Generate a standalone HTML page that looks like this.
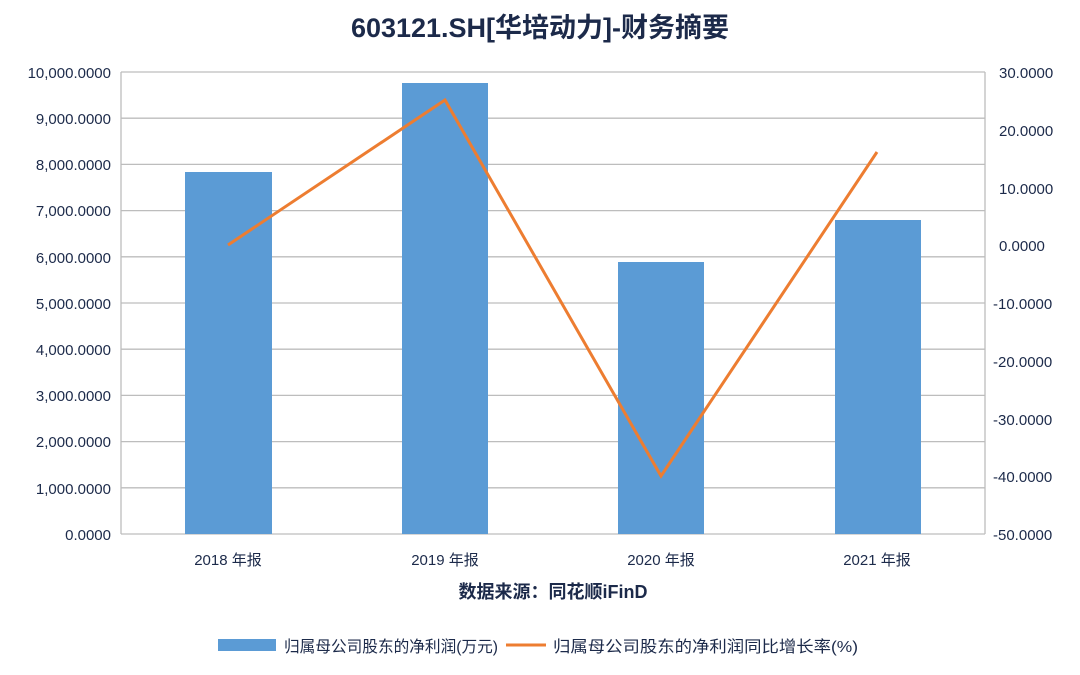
<!DOCTYPE html>
<html><head><meta charset="utf-8"><style>
body{margin:0;background:#fff;}
svg text{font-family:"Liberation Sans","Noto Sans CJK SC",sans-serif;fill:#1c2a4a;}
</style></head><body>
<svg width="1080" height="670" xmlns="http://www.w3.org/2000/svg">
<rect width="1080" height="670" fill="#fff"/>
<text x="540" y="37" text-anchor="middle" font-size="27" font-weight="bold" fill="#1c2a4a">603121.SH[华培动力]-财务摘要</text>
<g stroke="#bdbdbd" stroke-width="1.3">
<line x1="121" y1="72" x2="985" y2="72"/>
<line x1="121" y1="118.2" x2="985" y2="118.2"/>
<line x1="121" y1="164.4" x2="985" y2="164.4"/>
<line x1="121" y1="210.6" x2="985" y2="210.6"/>
<line x1="121" y1="256.8" x2="985" y2="256.8"/>
<line x1="121" y1="303" x2="985" y2="303"/>
<line x1="121" y1="349.2" x2="985" y2="349.2"/>
<line x1="121" y1="395.4" x2="985" y2="395.4"/>
<line x1="121" y1="441.6" x2="985" y2="441.6"/>
<line x1="121" y1="487.8" x2="985" y2="487.8"/>
<line x1="121" y1="534" x2="985" y2="534"/>
<line x1="121" y1="72" x2="121" y2="534"/>
<line x1="985" y1="72" x2="985" y2="534"/>
</g>
<g fill="#5b9bd5">
<rect x="185" y="172" width="87" height="362"/>
<rect x="402" y="83" width="86" height="451"/>
<rect x="618" y="262" width="86" height="272"/>
<rect x="835" y="220" width="86" height="314"/>
</g>
<polyline points="228,245 445,100 661,476 877,152" fill="none" stroke="#ed7d31" stroke-width="3"/>
<g font-size="15" text-anchor="end">
<text x="111" y="78">10,000.0000</text>
<text x="111" y="124">9,000.0000</text>
<text x="111" y="170">8,000.0000</text>
<text x="111" y="216">7,000.0000</text>
<text x="111" y="263">6,000.0000</text>
<text x="111" y="309">5,000.0000</text>
<text x="111" y="355">4,000.0000</text>
<text x="111" y="401">3,000.0000</text>
<text x="111" y="447">2,000.0000</text>
<text x="111" y="494">1,000.0000</text>
<text x="111" y="540">0.0000</text>
</g>
<g font-size="15" text-anchor="start">
<text x="999" y="78">30.0000</text>
<text x="999" y="136">20.0000</text>
<text x="999" y="194">10.0000</text>
<text x="999" y="251">0.0000</text>
<text x="993" y="309">-10.0000</text>
<text x="993" y="367">-20.0000</text>
<text x="993" y="425">-30.0000</text>
<text x="993" y="482">-40.0000</text>
<text x="993" y="540">-50.0000</text>
</g>
<g font-size="15" text-anchor="middle">
<text x="228" y="565">2018 年报</text>
<text x="445" y="565">2019 年报</text>
<text x="661" y="565">2020 年报</text>
<text x="877" y="565">2021 年报</text>
</g>
<text x="553" y="598" text-anchor="middle" font-size="18" font-weight="bold">数据来源：同花顺iFinD</text>
<rect x="218" y="639" width="58" height="12" fill="#5b9bd5"/>
<text x="284" y="652" font-size="16" textLength="214" lengthAdjust="spacingAndGlyphs">归属母公司股东的净利润(万元)</text>
<line x1="506" y1="645" x2="546" y2="645" stroke="#ed7d31" stroke-width="3"/>
<text x="553" y="652" font-size="16" textLength="305" lengthAdjust="spacingAndGlyphs">归属母公司股东的净利润同比增长率(%)</text>
</svg>
</body></html>
